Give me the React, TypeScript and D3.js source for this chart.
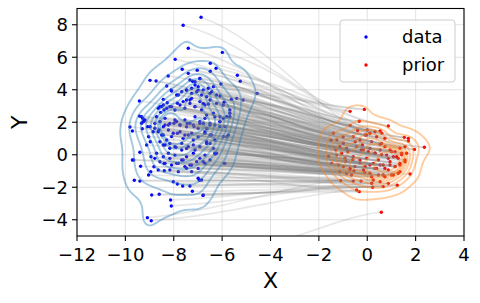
import * as d3 from "d3";
import { useMemo } from "react";

const WIDTH = 480;
const HEIGHT = 303;
const MARGIN = { top: 8.5, right: 16, bottom: 67, left: 77 };

const xTicks = [-12, -10, -8, -6, -4, -2, 0, 2, 4];
const yTicks = [-4, -2, 0, 2, 4, 6, 8];
const legendLabels = ["data", "prior"];

// samples (x, y)
const dataPoints: [number, number][] = [
  [-6.87, 8.46], [-7.61, 7.97], [-7.4, 6.55], [-5.99, 6.3], [-7.94, 5.87], [-6.49, 5.63], [-6.25, 5.32],
  [-7.65, 5.26], [-7.03, 5.2], [-6.49, 5.14], [-7.4, 5.01], [-5.37, 4.89], [-8.23, 4.85], [-8.98, 4.58],
  [-8.73, 4.54], [-5.25, 4.52], [-6.92, 4.68], [-7.22, 4.52], [-4.55, 3.78], [-6.05, 4.35], [-8.09, 3.92],
  [-9.42, 3.31], [-5.62, 3.41], [-5.4, 3.47], [-5.13, 3.37], [-5.92, 3.23], [-6.09, 3.62],
  [-8.29, 4.23], [-7.81, 3.68], [-7.47, 3.98], [-7.26, 3.78], [-6.99, 3.98],
  [-8.43, 3.41], [-8.27, 3.2], [-8.5, 2.96], [-8.64, 2.86], [-8.54, 2.61], [-8.4, 2.75], [-8.16, 2.96],
  [-7.85, 3.17], [-7.61, 3.27], [-7.33, 3.37], [-7.12, 2.96],
  [-9.42, 2.38], [-9.28, 2.24], [-9.22, 2.08], [-9.33, 1.94], [-9.81, 1.71], [-9.71, 1.46], [-9.3, 1.6],
  [-8.98, 1.72], [-8.78, 1.63], [-8.61, 1.52], [-8.85, 1.42], [-9.04, 1.11], [-8.97, 0.8],
  [-8.43, 1.72], [-8.22, 1.83], [-7.99, 1.94], [-7.74, 1.83], [-7.47, 1.72], [-7.19, 1.83], [-6.99, 1.63],
  [-8.5, 1.22], [-8.29, 0.91], [-8.09, 1.12], [-7.85, 1.32], [-7.61, 1.01], [-7.4, 1.22], [-7.19, 0.91],
  [-8.43, 0.6], [-8.16, 0.4], [-7.91, 0.46], [-7.67, 0.29], [-7.4, 0.5], [-7.12, 0.29], [-9.12, 0.6],
  [-9.71, -0.32], [-9.66, -0.32], [-9.4, 0.15], [-9.37, -0.71],
  [-8.94, -0.12], [-8.78, -0.22], [-8.57, -0.43], [-8.4, -0.53], [-8.64, -0.94], [-8.82, -0.74],
  [-8.16, -0.22], [-7.88, -0.53], [-7.61, -0.32], [-7.33, -0.63], [-7.05, -0.43], [-8.16, -0.94],
  [-7.81, -1.04], [-7.47, -0.83], [-7.26, -1.04], [-9.04, -1.25], [-8.95, -1.04], [-9.63, -1.57], [-9.4, -1.62],
  [-8.02, -1.66], [-7.85, -1.8], [-7.63, -1.92], [-7.33, -1.92], [-6.99, -1.45],
  [-8.91, -2.48], [-8.6, -2.43], [-8.13, -2.78], [-8.1, -3.15], [-9.09, -3.87], [-8.93, -4.06],
  [-8.39, -0.98], [-6.94, -1.57], [-7.23, -2.25], [-6.79, -2.5], [-5.91, -0.53], [-6.28, 0.05],
  [-8.11, 3.99], [-7.88, 3.68], [-7.67, 3.88], [-7.47, 3.99], [-7.26, 4.09], [-7.12, 4.29], [-6.99, 4.19],
  [-6.78, 3.99], [-6.57, 4.09], [-6.43, 3.88], [-6.23, 3.68], [-8.57, 2.96], [-8.43, 3.06], [-8.29, 2.86],
  [-8.09, 2.96], [-7.95, 2.75], [-7.74, 3.06], [-7.54, 2.86], [-7.33, 3.16], [-7.12, 2.96], [-6.92, 3.27],
  [-6.71, 3.06], [-6.5, 3.37], [-6.23, 3.16], [-5.95, 3.06], [-5.68, 2.75], [-9.33, 2.34], [-9.19, 2.14],
  [-8.71, 2.34], [-8.57, 2.04], [-8.36, 2.24], [-8.16, 1.93], [-7.95, 2.14], [-7.74, 1.83], [-7.54, 2.14],
  [-7.33, 1.93], [-7.12, 2.34], [-6.92, 2.04], [-6.71, 2.24], [-6.5, 1.93], [-6.3, 2.34], [-6.09, 2.04],
  [-5.88, 1.73], [-5.68, 2.34], [-7.33, 4.6], [-7.12, 4.5], [-6.92, 4.7], [-7.05, 3.88], [-6.85, 3.68],
  [-6.64, 3.57], [-7.26, 3.47], [-7.47, 3.37], [-6.5, 3.78], [-6.36, 4.19],
  [-9.26, 2.04], [-9.08, 1.73], [-8.78, 1.93], [-8.36, 1.83], [-7.88, 2.04], [-7.44, 1.93], [-7.16, 1.73],
  [-6.92, 1.93], [-6.64, 1.62], [-6.3, 1.83], [-6.09, 2.04], [-8.64, 1.42], [-8.43, 1.22], [-8.22, 1.52],
  [-8.02, 1.32], [-7.74, 1.42], [-7.54, 1.22], [-7.26, 1.32], [-6.99, 1.11], [-6.71, 1.42], [-6.5, 1.22],
  [-5.74, 1.22], [-8.57, 0.8], [-8.36, 0.6], [-8.16, 0.7], [-7.95, 0.5], [-7.67, 0.7], [-7.47, 0.39],
  [-7.19, 0.6], [-6.92, 0.5], [-6.64, 0.7], [-6.36, 0.39], [-8.71, 0.09], [-8.43, -0.12], [-8.22, 0.09],
  [-7.95, -0.02], [-7.67, -0.32], [-7.47, -0.12], [-7.19, 0.09], [-6.92, -0.22], [-6.71, -0.02], [-6.5, -0.32],
  [-6.23, 0.09], [-8.36, -0.53], [-8.09, -0.63], [-7.81, -0.53], [-7.54, -0.73], [-7.26, -0.63], [-6.99, -0.84],
  [-6.71, -0.53],
  [-6.78, 3.16], [-6.57, 3.12], [-6.85, 2.75], [-6.64, 2.45], [-6.36, 2.55], [-6.09, 2.34], [-5.95, 2.24],
  [-5.68, 2.55], [-5.81, 2.34], [-6.78, 1.93], [-6.5, 1.83], [-6.09, 1.73], [-6.71, 1.32], [-6.43, 1.22],
  [-5.95, 1.11], [-6.64, 0.8], [-6.3, 0.91], [-5.81, 1.11], [-6.5, 0.7], [-6.3, 0.09], [-6.78, -0.43],
  [-5.88, -0.53], [-6.85, -1.55], [-6.78, -2.48],
  [-6.6, -6.4],
];

const priorPoints: [number, number][] = [
  [-0.12, 2.79], [-0.71, 2.67], [-0.33, 2.06], [-0.71, 1.81], [0.87, 1.77], [0.0, 1.52], [1.53, 1.07],
  [1.7, 1.01], [2.36, 0.46], [1.95, 0.33], [1.77, -1.18], [1.24, -1.88], [0.87, -1.76], [-0.44, -2.17],
  [-0.33, -2.27], [-0.58, -1.62], [-0.26, -1.62], [0.18, -1.76], [0.22, -2.0], [0.58, -3.54],
  [0.53, 1.46], [0.6, 1.32], [0.32, 1.42], [0.11, 1.32], [-0.09, 1.22], [1.7, 0.85],
  [1.56, 0.5], [1.35, 0.4], [1.15, 0.19], [0.94, 0.29], [0.73, 0.5], [0.53, 0.64],
  [1.42, 0.0], [1.28, -0.22], [1.08, -0.12], [0.87, -0.22], [0.59, 0.0], [0.32, 0.09], [0.04, 0.19],
  [1.56, -0.43], [1.35, -0.63], [1.15, -0.73], [0.94, -0.63], [0.73, -0.84], [0.53, -0.63], [0.32, -0.84],
  [0.11, -0.63], [-0.09, -0.73], [1.28, -1.14], [1.01, -1.25], [0.73, -1.35], [0.46, -1.25], [0.18, -1.35],
  [0.53, -1.66], [0.25, -1.55], [-0.65, -1.25], [-0.72, -0.94], [0.66, -1.96],
  [-1.4, 1.32], [-1.26, 0.91], [-0.99, 0.7], [-1.47, -0.53], [-1.2, -0.63], [-0.99, -0.73], [-1.13, -1.04],
  [-0.85, -1.14], [-0.71, -0.84],
  [-0.58, 1.11], [-0.3, 0.91], [-0.03, 1.22], [0.18, 0.81], [0.39, 1.11], [0.59, 0.7], [0.73, 1.01],
  [-0.44, 0.5], [-0.16, 0.29], [0.11, 0.39], [0.32, 0.09], [0.53, 0.29], [0.8, -0.02], [1.01, 0.19],
  [1.21, -0.12], [1.42, 0.09], [-0.58, -0.12], [-0.3, -0.32], [-0.03, -0.22], [0.25, -0.53], [0.46, -0.32],
  [0.66, -0.63], [0.94, -0.43], [1.15, -0.73], [1.35, -0.53], [1.56, -0.32], [1.63, 0.09], [-0.51, -0.73],
  [-0.16, -0.94], [0.11, -1.14], [0.39, -0.84], [0.66, -1.25], [0.87, -0.94], [1.08, -1.25], [1.35, -1.04],
  [-1.06, 0.09], [-0.92, -0.22], [-0.85, 0.39], [-1.13, 0.5], [-1.27, -0.02],
  [-0.5, 0.8], [-0.8, 0.2], [-0.3, -0.5], [-1.0, 1.1], [-0.6, -0.3], [-0.2, 0.6], [-1.3, 0.3], [-0.9, -0.4],
  [-0.4, 1.5], [-1.6, -0.1], [-0.1, -1.1], [-0.55, -1.0], [-1.1, -1.6], [-1.5, 0.9], [-0.25, 0.3],
];

const fmt = (v: number) => (v < 0 ? "\u2212" + Math.abs(v) : String(v));

// gaussian kde on a grid, contour levels as iso-proportions of mass (like seaborn)
function kdeContours(points: [number, number][], gridsize = 150, cut = 3) {
  const n = points.length;
  const mx = d3.mean(points, (p) => p[0]) as number;
  const my = d3.mean(points, (p) => p[1]) as number;
  let sxx = 0, syy = 0, sxy = 0;
  points.forEach(([x, y]) => {
    sxx += (x - mx) ** 2;
    syy += (y - my) ** 2;
    sxy += (x - mx) * (y - my);
  });
  const f2 = Math.pow(n, -1 / 3) / (n - 1);
  const cxx = sxx * f2, cyy = syy * f2, cxy = sxy * f2;
  const det = cxx * cyy - cxy * cxy;
  const ixx = cyy / det, iyy = cxx / det, ixy = -cxy / det;
  const [xmin, xmax] = d3.extent(points, (p) => p[0]) as [number, number];
  const [ymin, ymax] = d3.extent(points, (p) => p[1]) as [number, number];
  const gx0 = xmin - cut * Math.sqrt(cxx), gx1 = xmax + cut * Math.sqrt(cxx);
  const gy0 = ymin - cut * Math.sqrt(cyy), gy1 = ymax + cut * Math.sqrt(cyy);
  const sx = (gx1 - gx0) / (gridsize - 1);
  const sy = (gy1 - gy0) / (gridsize - 1);
  const values = new Array(gridsize * gridsize).fill(0);
  for (let j = 0; j < gridsize; j++) {
    const gy = gy0 + j * sy;
    for (let i = 0; i < gridsize; i++) {
      const gx = gx0 + i * sx;
      let s = 0;
      for (let k = 0; k < n; k++) {
        const dx = gx - points[k][0], dy = gy - points[k][1];
        s += Math.exp(-0.5 * (ixx * dx * dx + 2 * ixy * dx * dy + iyy * dy * dy));
      }
      values[j * gridsize + i] = s;
    }
  }
  const sorted = values.slice().sort((a, b) => b - a);
  const total = d3.sum(sorted);
  const cum: number[] = [];
  let acc = 0;
  sorted.forEach((v) => { acc += v; cum.push(acc / total); });
  const isoprops = d3.range(10).map((i) => 0.05 + (i * 0.95) / 9);
  const levels = isoprops.slice(0, -1).map((p) => {
    const idx = d3.bisectLeft(cum, 1 - p);
    return sorted[Math.min(idx, sorted.length - 1)];
  }).sort((a, b) => a - b);
  const contours = d3.contours().size([gridsize, gridsize]).thresholds(levels)(values);
  return { contours, gx0, gy0, sx, sy };
}

// pair each sample with a prior point: bands by y, then order by x inside the band
function pairUp(data: [number, number][], prior: [number, number][]) {
  const d = data.map((_, i) => i).sort((a, b) => data[a][1] - data[b][1]);
  const q = prior.map((_, i) => i).sort((a, b) => prior[a][1] - prior[b][1]);
  const pairs: [[number, number], [number, number]][] = [[data[d[0]], prior[q[0]]]];
  const dr = d.slice(1), qr = q.slice(1);
  const B = 9;
  for (let b = 0; b < B; b++) {
    const ds = dr.slice(Math.round((b * dr.length) / B), Math.round(((b + 1) * dr.length) / B))
      .sort((u, v) => data[u][0] - data[v][0]);
    const qs = qr.slice(Math.round((b * qr.length) / B), Math.round(((b + 1) * qr.length) / B))
      .sort((u, v) => prior[u][0] - prior[v][0]);
    ds.forEach((di, j) => {
      const qi = qs[Math.min(qs.length - 1, Math.floor((j * qs.length) / ds.length))];
      pairs.push([data[di], prior[qi]]);
    });
  }
  return pairs;
}

export default function App() {
  const boundsWidth = WIDTH - MARGIN.left - MARGIN.right;
  const boundsHeight = HEIGHT - MARGIN.top - MARGIN.bottom;

  const xScale = d3.scaleLinear().domain([-12, 4]).range([MARGIN.left, MARGIN.left + boundsWidth]);
  const yScale = d3.scaleLinear().domain([-5, 9]).range([MARGIN.top + boundsHeight, MARGIN.top]);

  const dataKde = useMemo(() => kdeContours(dataPoints), []);
  const priorKde = useMemo(() => kdeContours(priorPoints), []);
  const pairs = useMemo(() => pairUp(dataPoints, priorPoints), []);

  const contourPath = (k: ReturnType<typeof kdeContours>) =>
    d3.geoPath(
      d3.geoTransform({
        point: function (x: number, y: number) {
          (this as any).stream.point(xScale(k.gx0 + (x - 0.5) * k.sx), yScale(k.gy0 + (y - 0.5) * k.sy));
        },
      })
    );
  const dataPath = contourPath(dataKde);
  const priorPath = contourPath(priorKde);

  const trajectory = ([p0, p1]: [[number, number], [number, number]]) => {
    const dx = p1[0] - p0[0], dy = p1[1] - p0[1];
    const path = d3.path();
    path.moveTo(xScale(p0[0]), yScale(p0[1]));
    path.bezierCurveTo(
      xScale(p0[0] + 0.4 * dx), yScale(p0[1] + 0.2 * dy),
      xScale(p0[0] + 0.75 * dx), yScale(p1[1] - 0.08 * dy),
      xScale(p1[0]), yScale(p1[1])
    );
    return path.toString();
  };

  const bottom = MARGIN.top + boundsHeight;
  const right = MARGIN.left + boundsWidth;

  return (
    <svg width={WIDTH} height={HEIGHT} style={{ position: "absolute", left: 0, top: 0 }} fontFamily="DejaVu Sans">
      <defs>
        <clipPath id="plot">
          <rect x={MARGIN.left} y={MARGIN.top} width={boundsWidth} height={boundsHeight} />
        </clipPath>
      </defs>
      <rect x={0} y={0} width={WIDTH} height={HEIGHT} fill="white" />
      {/* grid */}
      <g stroke="#b0b0b0" strokeOpacity={0.35} strokeWidth={1}>
        {xTicks.map((t) => (
          <line key={"gx" + t} x1={xScale(t)} x2={xScale(t)} y1={MARGIN.top} y2={bottom} />
        ))}
        {yTicks.map((t) => (
          <line key={"gy" + t} x1={MARGIN.left} x2={right} y1={yScale(t)} y2={yScale(t)} />
        ))}
      </g>
      <g clipPath="url(#plot)">
        {dataPoints.map((p, i) => (
          <circle key={"d" + i} cx={xScale(p[0])} cy={yScale(p[1])} r={1.7} fill="blue" />
        ))}
        {priorPoints.map((p, i) => (
          <circle key={"p" + i} cx={xScale(p[0])} cy={yScale(p[1])} r={1.7} fill="red" />
        ))}
        {pairs.map((pr, i) => (
          <path key={"t" + i} d={trajectory(pr)} fill="none" stroke="gray" strokeOpacity={0.19} strokeWidth={1.7} />
        ))}
        {dataKde.contours.map((c, i) => (
          <path key={"cd" + i} d={dataPath(c) || ""} fill="none" stroke="#1f77b4" strokeOpacity={0.4} strokeWidth={1.9} />
        ))}
        {priorKde.contours.map((c, i) => (
          <path key={"cp" + i} d={priorPath(c) || ""} fill="none" stroke="#ff7f0e" strokeOpacity={0.4} strokeWidth={1.9} />
        ))}
      </g>
      {/* frame */}
      <rect x={MARGIN.left} y={MARGIN.top} width={boundsWidth} height={boundsHeight} fill="none" stroke="black" strokeWidth={1.1} />
      {/* ticks */}
      {xTicks.map((t) => (
        <g key={"tx" + t}>
          <line x1={xScale(t)} x2={xScale(t)} y1={bottom} y2={bottom + 5} stroke="black" strokeWidth={1.1} />
          <text x={xScale(t)} y={bottom + 24.5} textAnchor="middle" fontSize={18}>{fmt(t)}</text>
        </g>
      ))}
      {yTicks.map((t) => (
        <g key={"ty" + t}>
          <line x1={MARGIN.left - 5} x2={MARGIN.left} y1={yScale(t)} y2={yScale(t)} stroke="black" strokeWidth={1.1} />
          <text x={MARGIN.left - 9} y={yScale(t) + 6.5} textAnchor="end" fontSize={18}>{fmt(t)}</text>
        </g>
      ))}
      <text x={MARGIN.left + boundsWidth / 2} y={288} textAnchor="middle" fontSize={22}>X</text>
      <text transform={`translate(26.5,${MARGIN.top + boundsHeight / 2}) rotate(-90)`} textAnchor="middle" fontSize={22}>Y</text>
      {/* legend */}
      <rect x={340} y={20} width={115} height={62} rx={3} fill="white" fillOpacity={0.8} stroke="#cccccc" strokeWidth={1} />
      {legendLabels.map((l, i) => (
        <g key={l}>
          <circle cx={366} cy={37 + i * 28} r={1.7} fill={i === 0 ? "blue" : "red"} />
          <text x={402} y={43 + i * 28} fontSize={18}>{l}</text>
        </g>
      ))}
    </svg>
  );
}
